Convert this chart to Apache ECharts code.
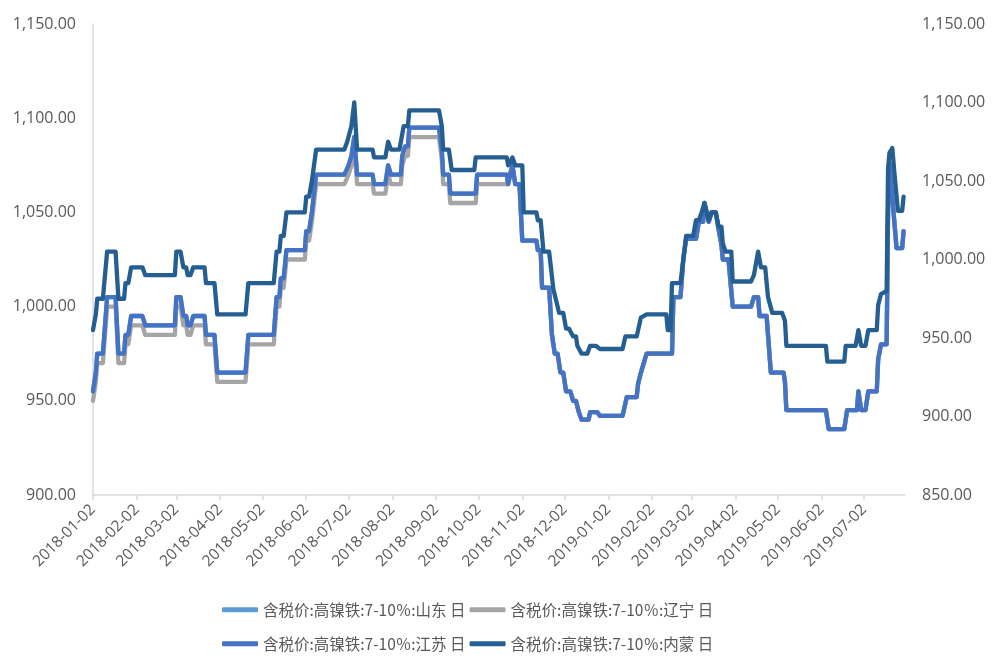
<!DOCTYPE html>
<html>
<head>
<meta charset="utf-8">
<script src="https://cdn.jsdelivr.net/npm/echarts@6/dist/echarts.min.js"></script>
<style>
html,body{margin:0;padding:0;background:#fff;}
#chart{width:1000px;height:659px;}
</style>
</head>
<body>
<div id="chart"></div>
<script>
// ---- names ----
const nameSD = '含税价:高镍铁:7-10％:山东 日';
const nameLN = '含税价:高镍铁:7-10％:辽宁 日';
const nameJS = '含税价:高镍铁:7-10％:江苏 日';
const nameNM = '含税价:高镍铁:7-10％:内蒙 日';

// ---- x tick labels ----
const tickDates = ['2018-01-02','2018-02-02','2018-03-02','2018-04-02','2018-05-02','2018-06-02',
  '2018-07-02','2018-08-02','2018-09-02','2018-10-02','2018-11-02','2018-12-02','2019-01-02',
  '2019-02-02','2019-03-02','2019-04-02','2019-05-02','2019-06-02','2019-07-02'];
const xStart = '2018-01-02';
const xEnd = '2019-07-31';

// ---- y ticks ----
const leftMin = 900, leftMax = 1150;
const rightMin = 850, rightMax = 1150;
const yStep = 50;

// ---- series (vertex points) ----
const jiangsu = [
['2018-01-02',955],['2018-01-04',965],['2018-01-05',975],['2018-01-09',975],['2018-01-10',985],
['2018-01-11',985],['2018-01-12',1005],['2018-01-18',1005],['2018-01-20',975],['2018-01-24',975],
['2018-01-25',985],['2018-01-27',985],['2018-01-29',995],['2018-02-06',995],['2018-02-08',990],
['2018-03-01',990],['2018-03-02',1005],['2018-03-05',1005],['2018-03-07',995],['2018-03-09',995],
['2018-03-10',990],['2018-03-12',990],['2018-03-14',995],['2018-03-22',995],['2018-03-23',985],
['2018-03-29',985],['2018-03-31',965],['2018-04-20',965],['2018-04-22',985],['2018-05-10',985],
['2018-05-12',1005],['2018-05-14',1005],['2018-05-15',1015],['2018-05-17',1015],['2018-05-19',1030],
['2018-06-01',1030],['2018-06-02',1040],['2018-06-04',1040],['2018-06-06',1050],['2018-06-07',1050],
['2018-06-09',1070],['2018-06-29',1070],['2018-07-02',1075],['2018-07-04',1080],['2018-07-06',1090],
['2018-07-08',1070],['2018-07-19',1070],['2018-07-20',1065],['2018-07-28',1065],['2018-07-30',1075],
['2018-08-01',1070],['2018-08-08',1070],['2018-08-09',1080],['2018-08-11',1085],['2018-08-13',1085],
['2018-08-14',1095],['2018-09-04',1095],['2018-09-06',1083],['2018-09-07',1070],['2018-09-11',1070],
['2018-09-12',1060],['2018-09-30',1060],['2018-10-01',1070],['2018-10-22',1070],['2018-10-23',1065],
['2018-10-26',1075],['2018-10-28',1065],['2018-10-31',1065],['2018-11-02',1035],['2018-11-12',1035],
['2018-11-13',1030],['2018-11-15',1030],['2018-11-16',1010],['2018-11-21',1010],['2018-11-23',985],
['2018-11-25',975],['2018-11-27',975],['2018-11-29',965],['2018-12-01',965],['2018-12-03',955],
['2018-12-06',955],['2018-12-08',950],['2018-12-10',950],['2018-12-12',944],['2018-12-14',940],
['2018-12-19',940],['2018-12-20',944],['2018-12-25',944],['2018-12-27',942],['2019-01-12',942],
['2019-01-15',952],['2019-01-22',952],['2019-01-23',959],['2019-01-25',965],['2019-01-29',975],
['2019-02-16',975],['2019-02-17',1005],['2019-02-22',1005],['2019-02-24',1025],['2019-02-26',1036],
['2019-03-05',1036],['2019-03-07',1045],['2019-03-10',1045],['2019-03-11',1055],['2019-03-14',1045],
['2019-03-16',1050],['2019-03-19',1050],['2019-03-21',1041],['2019-03-23',1033],['2019-03-24',1025],
['2019-03-28',1025],['2019-03-31',1000],['2019-04-13',1000],['2019-04-15',1005],['2019-04-18',1005],
['2019-04-19',995],['2019-04-24',995],['2019-04-26',975],['2019-04-27',965],
['2019-05-06',965],['2019-05-07',960],['2019-05-08',945],['2019-06-05',945],['2019-06-07',935],
['2019-06-18',935],['2019-06-20',945],['2019-06-27',945],['2019-06-28',955],['2019-06-29',955],
['2019-06-30',945],['2019-07-03',945],['2019-07-05',955],['2019-07-11',955],['2019-07-12',972],
['2019-07-14',980],['2019-07-18',980],['2019-07-19',1050],['2019-07-20',1076],['2019-07-25',1031],
['2019-07-29',1031],['2019-07-30',1040]
];

const shandong = [
['2018-01-02',955],['2018-01-04',965],['2018-01-05',975],['2018-01-09',975],['2018-01-10',985],
['2018-01-11',985],['2018-01-12',1005],['2018-01-18',1005],['2018-01-20',975],['2018-01-24',975],
['2018-01-25',985],['2018-01-27',985],['2018-01-29',995],['2018-02-06',995],['2018-02-08',990],
['2018-03-01',990],['2018-03-02',1005],['2018-03-05',1005],['2018-03-07',995],['2018-03-09',995],
['2018-03-10',990],['2018-03-12',990],['2018-03-14',995],['2018-03-22',995],['2018-03-23',985],
['2018-03-29',985],['2018-03-31',965],['2018-04-20',965],['2018-04-22',985],['2018-05-10',985],
['2018-05-12',1005],['2018-05-14',1005],['2018-05-15',1015],['2018-05-17',1015],['2018-05-19',1030],
['2018-06-01',1030],['2018-06-02',1040],['2018-06-04',1040],['2018-06-06',1050],['2018-06-07',1050],
['2018-06-09',1070],['2018-06-29',1070],['2018-07-02',1075],['2018-07-04',1080],['2018-07-06',1090],
['2018-07-08',1070],['2018-07-19',1070],['2018-07-20',1065],['2018-07-28',1065],['2018-07-30',1075],
['2018-08-01',1070],['2018-08-08',1070],['2018-08-09',1080],['2018-08-11',1085],['2018-08-13',1085],
['2018-08-14',1095],['2018-09-04',1095],['2018-09-06',1083],['2018-09-07',1070],['2018-09-11',1070],
['2018-09-12',1060],['2018-09-30',1060],['2018-10-01',1070],['2018-10-22',1070],['2018-10-23',1065],
['2018-10-26',1075],['2018-10-28',1065],['2018-10-31',1065],['2018-11-02',1035],['2018-11-12',1035],
['2018-11-13',1030],['2018-11-15',1030],['2018-11-16',1010],['2018-11-21',1010],['2018-11-23',985],
['2018-11-25',975],['2018-11-27',975],['2018-11-29',965],['2018-12-01',965],['2018-12-03',955],
['2018-12-06',955],['2018-12-08',950],['2018-12-10',950],['2018-12-12',944],['2018-12-14',940],
['2018-12-19',940],['2018-12-20',944],['2018-12-25',944],['2018-12-27',942],['2019-01-12',942],
['2019-01-15',952],['2019-01-22',952],['2019-01-23',959],['2019-01-25',965],['2019-01-29',975],
['2019-02-16',975],['2019-02-17',1005],['2019-02-22',1005],['2019-02-24',1025],['2019-02-26',1036],
['2019-03-05',1036],['2019-03-07',1045],['2019-03-10',1045],['2019-03-11',1055],['2019-03-14',1045],
['2019-03-16',1050],['2019-03-19',1050],['2019-03-21',1041],['2019-03-23',1033],['2019-03-24',1025],
['2019-03-28',1025],['2019-03-31',1000],['2019-04-13',1000],['2019-04-15',1005],['2019-04-18',1005],
['2019-04-19',995],['2019-04-24',995],['2019-04-26',975],['2019-04-27',965],
['2019-05-06',965],['2019-05-07',960],['2019-05-08',945],['2019-06-05',945],['2019-06-07',935],
['2019-06-18',935],['2019-06-20',945],['2019-06-27',945],['2019-06-28',955],['2019-06-29',955],
['2019-06-30',945],['2019-07-03',945],['2019-07-05',955],['2019-07-11',955],['2019-07-12',972],
['2019-07-14',980],['2019-07-18',980],['2019-07-19',1050],['2019-07-20',1076],['2019-07-25',1031],
['2019-07-29',1031],['2019-07-30',1040]
];

const liaoning = [
['2018-01-02',950],['2018-01-04',960],['2018-01-05',970],['2018-01-09',970],['2018-01-10',980],
['2018-01-11',980],['2018-01-12',1000],['2018-01-18',1000],['2018-01-20',970],['2018-01-24',970],
['2018-01-25',980],['2018-01-27',980],['2018-01-29',990],['2018-02-06',990],['2018-02-08',985],
['2018-03-01',985],['2018-03-02',1000],['2018-03-05',1000],['2018-03-07',990],['2018-03-09',990],
['2018-03-10',985],['2018-03-12',985],['2018-03-14',990],['2018-03-22',990],['2018-03-23',980],
['2018-03-29',980],['2018-03-31',960],['2018-04-20',960],['2018-04-22',980],['2018-05-10',980],
['2018-05-12',1000],['2018-05-14',1000],['2018-05-15',1010],['2018-05-17',1010],['2018-05-19',1025],
['2018-06-01',1025],['2018-06-02',1035],['2018-06-04',1035],['2018-06-06',1045],['2018-06-07',1045],
['2018-06-09',1065],['2018-06-29',1065],['2018-07-02',1070],['2018-07-04',1075],['2018-07-06',1085],
['2018-07-08',1065],['2018-07-19',1065],['2018-07-20',1060],['2018-07-28',1060],['2018-07-30',1070],
['2018-08-01',1065],['2018-08-08',1065],['2018-08-09',1075],['2018-08-11',1080],['2018-08-13',1080],
['2018-08-14',1090],['2018-09-04',1090],['2018-09-06',1078],['2018-09-07',1065],['2018-09-11',1065],
['2018-09-12',1055],['2018-09-30',1055],['2018-10-01',1065],['2018-10-22',1065],['2018-10-23',1065],
['2018-10-26',1075],['2018-10-28',1065],['2018-10-31',1065],['2018-11-02',1035],['2018-11-12',1035],
['2018-11-13',1030],['2018-11-15',1030],['2018-11-16',1010],['2018-11-21',1010],['2018-11-23',985],
['2018-11-25',975],['2018-11-27',975],['2018-11-29',965],['2018-12-01',965],['2018-12-03',955],
['2018-12-06',955],['2018-12-08',950],['2018-12-10',950],['2018-12-12',944],['2018-12-14',940],
['2018-12-19',940],['2018-12-20',944],['2018-12-25',944],['2018-12-27',942],['2019-01-12',942],
['2019-01-15',952],['2019-01-22',952],['2019-01-23',959],['2019-01-25',965],['2019-01-29',975],
['2019-02-16',975],['2019-02-17',1005],['2019-02-22',1005],['2019-02-24',1025],['2019-02-26',1036],
['2019-03-05',1036],['2019-03-07',1045],['2019-03-10',1045],['2019-03-11',1055],['2019-03-14',1045],
['2019-03-16',1050],['2019-03-19',1050],['2019-03-21',1041],['2019-03-23',1033],['2019-03-24',1025],
['2019-03-28',1025],['2019-03-31',1000],['2019-04-13',1000],['2019-04-15',1005],['2019-04-18',1005],
['2019-04-19',995],['2019-04-24',995],['2019-04-26',975],['2019-04-27',965],
['2019-05-06',965],['2019-05-07',960],['2019-05-08',945],['2019-06-05',945],['2019-06-07',935],
['2019-06-18',935],['2019-06-20',945],['2019-06-27',945],['2019-06-28',955],['2019-06-29',955],
['2019-06-30',945],['2019-07-03',945],['2019-07-05',955],['2019-07-11',955],['2019-07-12',972],
['2019-07-14',980],['2019-07-18',980],['2019-07-19',1050],['2019-07-20',1076],['2019-07-25',1031],
['2019-07-29',1031],['2019-07-30',1040]
];

const neimeng = [
['2018-01-02',955],['2018-01-04',965],['2018-01-05',975],['2018-01-09',975],['2018-01-10',985],
['2018-01-11',985],['2018-01-12',1005],['2018-01-18',1005],['2018-01-20',975],['2018-01-24',975],
['2018-01-25',985],['2018-01-27',985],['2018-01-29',995],['2018-02-06',995],['2018-02-08',990],
['2018-03-01',990],['2018-03-02',1005],['2018-03-05',1005],['2018-03-07',995],['2018-03-09',995],
['2018-03-10',990],['2018-03-12',990],['2018-03-14',995],['2018-03-22',995],['2018-03-23',985],
['2018-03-29',985],['2018-03-31',965],['2018-04-20',965],['2018-04-22',985],['2018-05-10',985],
['2018-05-12',1005],['2018-05-14',1005],['2018-05-15',1015],['2018-05-17',1015],['2018-05-19',1030],
['2018-06-01',1030],['2018-06-02',1040],['2018-06-04',1040],['2018-06-06',1050],['2018-06-07',1050],
['2018-06-09',1070],['2018-06-29',1070],['2018-07-01',1075],['2018-07-04',1085],['2018-07-06',1100],
['2018-07-08',1070],['2018-07-19',1070],['2018-07-20',1065],['2018-07-28',1065],['2018-07-30',1075],
['2018-08-01',1070],['2018-08-07',1070],['2018-08-09',1080],['2018-08-10',1085],['2018-08-13',1085],
['2018-08-14',1095],['2018-09-04',1095],['2018-09-06',1085],['2018-09-07',1070],['2018-09-11',1070],
['2018-09-13',1057],['2018-09-29',1057],['2018-09-30',1065],['2018-10-22',1065],['2018-10-23',1060],
['2018-10-26',1065],['2018-10-28',1060],['2018-11-02',1060],['2018-11-03',1030],['2018-11-12',1030],
['2018-11-13',1025],['2018-11-15',1025],['2018-11-17',1005],['2018-11-21',1005],['2018-11-24',981],
['2018-11-27',970],['2018-11-28',966],['2018-12-01',966],['2018-12-03',956],['2018-12-05',956],
['2018-12-08',951],['2018-12-10',951],['2018-12-11',945],['2018-12-14',940],['2018-12-18',940],
['2018-12-20',945],['2018-12-24',945],['2018-12-27',943],['2019-01-12',943],['2019-01-14',951],
['2019-01-22',951],['2019-01-23',955],['2019-01-25',963],['2019-01-29',965],['2019-02-12',965],
['2019-02-13',955],['2019-02-15',955],['2019-02-16',985],['2019-02-22',985],['2019-02-24',1000],
['2019-02-26',1015],['2019-03-03',1015],['2019-03-05',1025],['2019-03-07',1025],['2019-03-09',1030],
['2019-03-11',1036],['2019-03-14',1025],['2019-03-16',1030],['2019-03-19',1030],['2019-03-21',1021],
['2019-03-23',1021],['2019-03-24',1010],['2019-03-26',1005],['2019-03-30',1005],['2019-03-31',986],
['2019-04-13',986],['2019-04-15',990],['2019-04-18',1005],['2019-04-20',995],['2019-04-23',995],
['2019-04-25',976],['2019-04-28',966],['2019-05-05',966],['2019-05-07',961],['2019-05-08',945],
['2019-06-05',945],['2019-06-06',935],['2019-06-18',935],['2019-06-19',945],['2019-06-26',945],
['2019-06-28',955],['2019-06-30',945],['2019-07-03',945],['2019-07-05',955],['2019-07-11',955],
['2019-07-12',971],['2019-07-14',978],['2019-07-18',980],['2019-07-19',1058],['2019-07-20',1068],
['2019-07-22',1071],['2019-07-24',1050],['2019-07-26',1031],['2019-07-29',1031],['2019-07-30',1040]
];

// ---- helpers ----
function toTs(s){ const p = s.split('-'); return new Date(+p[0], +p[1]-1, +p[2]).getTime(); }
function pad(n){ return (n < 10 ? '0' : '') + n; }
function fmtDate(v){ const d = new Date(v); return d.getFullYear() + '-' + pad(d.getMonth()+1) + '-' + pad(d.getDate()); }
function fmtNum(v){
  const s = Math.round(v).toString().replace(/\B(?=(\d{3})+(?!\d))/g, ',');
  return s + '.00';
}
function toPts(arr){ return arr.map(function(d){ return [toTs(d[0]), d[1]]; }); }
const tickTs = tickDates.map(toTs);

const axisGray = '#D9D9D9';
const labelGray = '#595959';
const numFont = 'Open Sans';
const cjkFont = 'Noto Sans CJK SC';

function lineSeries(name, data, color, yIdx){
  return {
    name: name, type: 'line', data: toPts(data), yAxisIndex: yIdx,
    symbol: 'none', showSymbol: false,
    lineStyle: { color: color, width: 4.3, cap: 'round', join: 'round' },
    itemStyle: { color: color },
    emphasis: { disabled: true }
  };
}

const chart = echarts.init(document.getElementById('chart'), null, { renderer: 'canvas' });
chart.setOption({
  animation: false,
  backgroundColor: '#ffffff',
  grid: { left: 93, right: 95, top: 24, bottom: 164, containLabel: false },
  legend: [
    {
      data: [nameSD, nameLN], left: 222, top: 602, orient: 'horizontal', padding: 0,
      icon: 'roundRect', itemWidth: 36, itemHeight: 5, itemGap: 4,
      textStyle: { fontFamily: cjkFont, fontSize: 15.5, color: labelGray }
    },
    {
      data: [nameJS, nameNM], left: 222, top: 636, orient: 'horizontal', padding: 0,
      icon: 'roundRect', itemWidth: 36, itemHeight: 5, itemGap: 4,
      textStyle: { fontFamily: cjkFont, fontSize: 15.5, color: labelGray }
    }
  ],
  xAxis: {
    type: 'value',
    min: toTs(xStart), max: toTs(xEnd),
    axisLine: { show: true, lineStyle: { color: axisGray, width: 1.5 } },
    axisTick: { show: true, customValues: tickTs, length: 5, lineStyle: { color: axisGray, width: 1.5 } },
    axisLabel: {
      customValues: tickTs, rotate: 45, margin: 12,
      formatter: function(v){ return fmtDate(v); },
      color: labelGray, fontFamily: numFont, fontSize: 15.5
    },
    splitLine: { show: false }
  },
  yAxis: [
    {
      type: 'value', min: leftMin, max: leftMax, interval: yStep, position: 'left',
      axisLine: { show: true, lineStyle: { color: axisGray, width: 1.5 } },
      axisTick: { show: false },
      axisLabel: { formatter: fmtNum, color: labelGray, fontFamily: numFont, fontSize: 16, margin: 17 },
      splitLine: { show: false }
    },
    {
      type: 'value', min: rightMin, max: rightMax, interval: yStep, position: 'right',
      axisLine: { show: false },
      axisTick: { show: false },
      axisLabel: { formatter: fmtNum, color: labelGray, fontFamily: numFont, fontSize: 16, margin: 17 },
      splitLine: { show: false }
    }
  ],
  series: [
    lineSeries(nameSD, shandong, '#5B9BD5', 0),
    lineSeries(nameLN, liaoning, '#A5A5A5', 0),
    lineSeries(nameJS, jiangsu, '#4472C4', 0),
    lineSeries(nameNM, neimeng, '#255E91', 1)
  ]
});
</script>
</body>
</html>
